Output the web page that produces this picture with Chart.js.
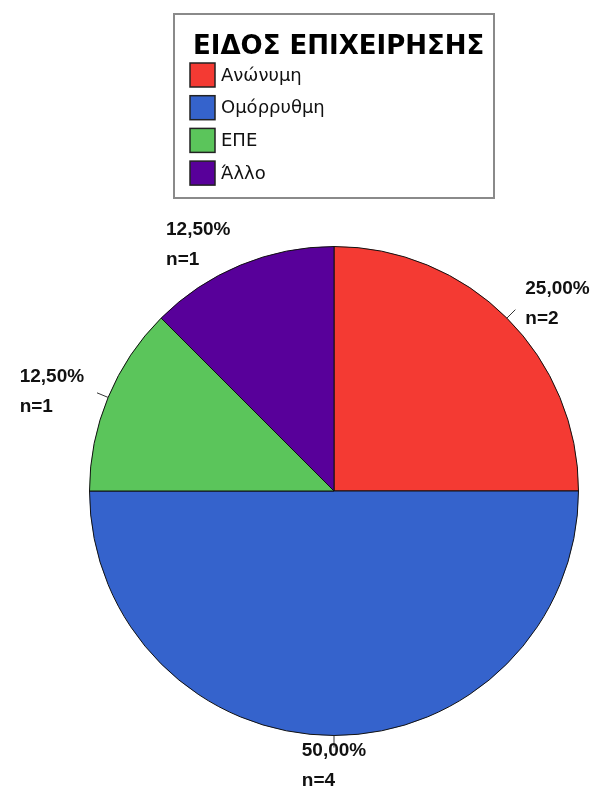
<!DOCTYPE html>
<html>
<head>
<meta charset="utf-8">
<script src="https://cdn.jsdelivr.net/npm/chart.js@4/dist/chart.umd.min.js"></script>
<style>
  html, body { margin: 0; padding: 0; background: #fff; }
  canvas { display: block; }
</style>
</head>
<body>
<canvas id="companyChart" width="599" height="786"></canvas>
<script>
"use strict";

const legendTitle = "ΕΙΔΟΣ ΕΠΙΧΕΙΡΗΣΗΣ";
const categories = ["Ανώνυμη", "Ομόρρυθμη", "ΕΠΕ", "Άλλο"];
const counts = [2, 4, 1, 1];

const sliceColors = ["#f43a33", "#3563cc", "#5bc55b", "#58009a"];

// boxed legend drawn top centre
const boxLegend = {
  id: "boxLegend",
  afterDraw(chart) {
    const ctx = chart.ctx;
    ctx.save();
    ctx.strokeStyle = "#8a8a8a";
    ctx.lineWidth = 2;
    ctx.strokeRect(174, 14, 320, 184);

    ctx.fillStyle = "#000";
    ctx.font = "bold 26px 'DejaVu Sans'";
    ctx.textBaseline = "alphabetic";
    ctx.textAlign = "left";
    ctx.fillText(legendTitle, 193, 54);

    ctx.font = "18px 'DejaVu Sans'";
    ctx.textBaseline = "middle";
    categories.forEach(function(name, i) {
      const y = 63 + i * 32.7;
      ctx.fillStyle = sliceColors[i];
      ctx.fillRect(190, y, 25, 24);
      ctx.strokeStyle = "#222";
      ctx.lineWidth = 1.5;
      ctx.strokeRect(190, y, 25, 24);
      ctx.fillStyle = "#111";
      ctx.fillText(name, 221, y + 13);
    });
    ctx.restore();
  }
};

// percentage / n labels outside each slice, lines left-aligned inside the block
const sliceLabels = {
  id: "sliceLabels",
  afterDatasetsDraw(chart, args, opts) {
    const ctx = chart.ctx;
    const total = counts.reduce((a, b) => a + b, 0);
    const arcs = chart.getDatasetMeta(0).data;
    ctx.save();
    ctx.font = "bold 19px 'Liberation Sans'";
    ctx.fillStyle = "#111";
    ctx.textBaseline = "middle";
    ctx.textAlign = "left";
    arcs.forEach(function(arc, i) {
      const mid = (arc.startAngle + arc.endAngle) / 2;
      const cos = Math.cos(mid);
      const sin = Math.sin(mid);
      const r = arc.outerRadius;

      if (opts.leaders[i]) {
        ctx.strokeStyle = "#333";
        ctx.lineWidth = 1;
        ctx.beginPath();
        ctx.moveTo(arc.x + cos * r, arc.y + sin * r);
        ctx.lineTo(arc.x + cos * (r + 12), arc.y + sin * (r + 12));
        ctx.stroke();
      }

      const lines = [
        (counts[i] / total * 100).toFixed(2).replace(".", ",") + "%",
        "n=" + counts[i]
      ];
      const w = Math.max(...lines.map(t => ctx.measureText(t).width));
      const ax = arc.x + cos * (r + 26);
      const ay = arc.y + sin * (r + 26) + 3;
      let left = ax - w / 2;
      if (cos > 0.3) left = ax;
      else if (cos < -0.3) left = ax - w;
      ctx.fillText(lines[0], left, ay - 14);
      ctx.fillText(lines[1], left, ay + 16);
    });
    ctx.restore();
  }
};

new Chart(document.getElementById("companyChart"), {
  type: "pie",
  data: {
    labels: categories,
    datasets: [{
      data: counts,
      backgroundColor: sliceColors,
      borderColor: "#111",
      borderWidth: 1
    }]
  },
  options: {
    responsive: false,
    animation: false,
    layout: {
      padding: { left: 89, right: 20, top: 246, bottom: 50 }
    },
    plugins: {
      legend: { display: false },
      tooltip: { enabled: false },
      sliceLabels: { leaders: [true, true, true, false] }
    }
  },
  plugins: [boxLegend, sliceLabels]
});
</script>
</body>
</html>
